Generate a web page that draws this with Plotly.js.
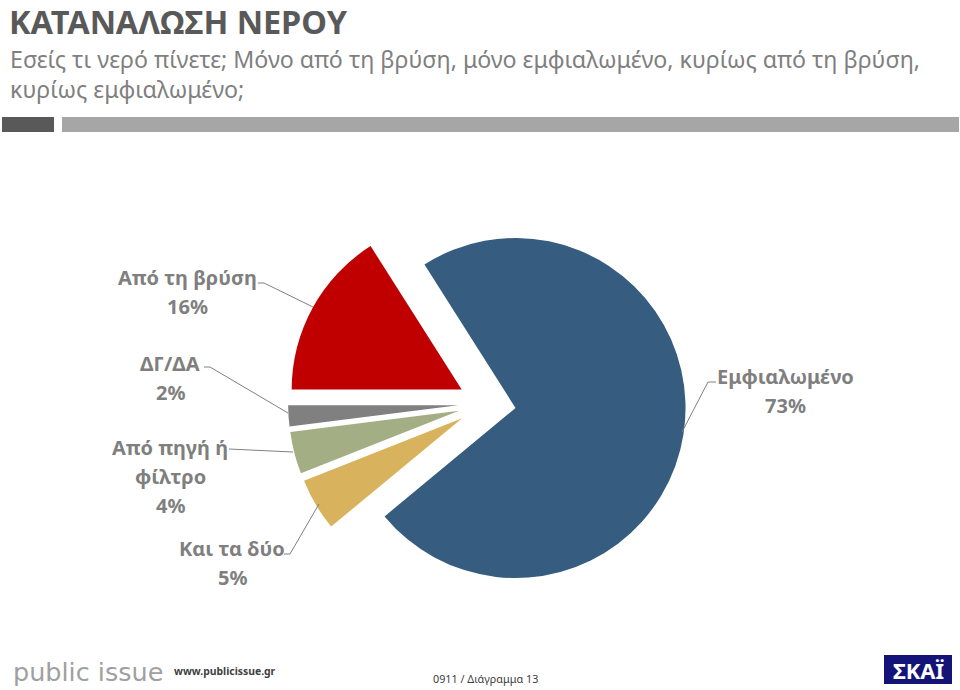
<!DOCTYPE html>
<html>
<head>
<meta charset="utf-8">
<script src="https://cdn.plot.ly/plotly-3.0.1.min.js"></script>
<style>html,body{margin:0;padding:0;background:#fff;}#chart{width:960px;height:690px;}</style>
</head>
<body>
<div id="chart"></div>
<script>
// ---- data ----
var categories = ['Εμφιαλωμένο', 'Και τα δύο', 'Από πηγή ή<br>φίλτρο', 'ΔΓ/ΔΑ', 'Από τη βρύση'];
var values = [73, 5, 4, 2, 16];
var titleText = 'ΚΑΤΑΝΑΛΩΣΗ ΝΕΡΟΥ';
var subtitleLines = ['Εσείς τι νερό πίνετε; Μόνο από τη βρύση, μόνο εμφιαλωμένο, κυρίως από τη βρύση,', 'κυρίως εμφιαλωμένο;'];
var footerSite = 'www.publicissue.gr';
var footerNote = '0911 / Διάγραμμα 13';

// ---- style ----
var W = 960, H = 690;
var sliceColors = ['#365D7F', '#D8B25C', '#A4AE84', '#808080', '#C00000'];
var font = 'Noto Sans, Open Sans, DejaVu Sans, sans-serif';
function fx(p) { return p / W; }
function fy(p) { return 1 - p / H; }

var R = 170, PULL = 0.17, CX = 487, CY = 403.5;
var half = R * (1 + PULL);

var labelPos = [
  {x: 785, y: 376},
  {x: 232, y: 548},
  {x: 170, y: 447},
  {x: 170, y: 363},
  {x: 187, y: 277}
];
var leaders = [
  [[716,382],[708,382],[682,432]],
  [[284,554],[290,554],[319,504]],
  [[229,449],[293,452]],
  [[204,367],[210,367],[288,413]],
  [[258,283],[264,283],[313,307]]
];
var LINE_STEP = 29;

var annotations = [];
var shapes = [];

categories.forEach(function (c, i) {
  var lines = c.split('<br>').concat([values[i] + '%']);
  lines.forEach(function (t, j) {
    annotations.push({
      xref: 'paper', yref: 'paper', x: fx(labelPos[i].x), y: fy(labelPos[i].y + j * LINE_STEP),
      xanchor: 'center', yanchor: 'middle', showarrow: false, text: '<b>' + t + '</b>',
      font: {family: font, size: 20, color: '#7F7F7F'}
    });
  });
  var pts = leaders[i];
  var d = 'M ' + pts.map(function (p) { return fx(p[0]) + ',' + fy(p[1]); }).join(' L ');
  shapes.push({type: 'path', xref: 'paper', yref: 'paper', path: d, line: {color: '#808080', width: 1}});
});

// title & subtitle
annotations.push({xref: 'paper', yref: 'paper', x: fx(8), y: fy(22), xanchor: 'left', yanchor: 'middle', borderpad: 0,
  showarrow: false, text: '<b>' + titleText + '</b>', font: {family: font, size: 32.5, color: '#595959'}});
subtitleLines.forEach(function (t, j) {
  annotations.push({xref: 'paper', yref: 'paper', x: fx(9), y: fy(59.5 + j * 29), xanchor: 'left', yanchor: 'middle', borderpad: 0,
    showarrow: false, text: t, font: {family: font, size: 23.2, color: '#7F7F7F'}});
});
// header bars
shapes.push({type: 'rect', xref: 'paper', yref: 'paper', x0: fx(2), x1: fx(54), y0: fy(132), y1: fy(117), fillcolor: '#595959', line: {width: 0}});
shapes.push({type: 'rect', xref: 'paper', yref: 'paper', x0: fx(62), x1: fx(959), y0: fy(132), y1: fy(117), fillcolor: '#A6A6A6', line: {width: 0}});

// footer
annotations.push({xref: 'paper', yref: 'paper', x: fx(11), y: fy(672), xanchor: 'left', yanchor: 'middle',
  showarrow: false, text: 'public issue', font: {family: 'DejaVu Sans, sans-serif', size: 25.5, color: '#A0A0A0'}});
annotations.push({xref: 'paper', yref: 'paper', x: fx(172), y: fy(671), xanchor: 'left', yanchor: 'middle',
  showarrow: false, text: '<b>' + footerSite + '</b>', font: {family: font, size: 10.4, color: '#404040'}});
annotations.push({xref: 'paper', yref: 'paper', x: fx(485), y: fy(678), xanchor: 'center', yanchor: 'middle',
  showarrow: false, text: footerNote, font: {family: font, size: 10.8, color: '#404040'}});
shapes.push({type: 'rect', xref: 'paper', yref: 'paper', x0: fx(884), x1: fx(952), y0: fy(684), y1: fy(655), fillcolor: '#141478', line: {width: 0}});
annotations.push({xref: 'paper', yref: 'paper', x: fx(918), y: fy(670), xanchor: 'center', yanchor: 'middle',
  showarrow: false, text: '<b>ΣΚΑΪ</b>', font: {family: font, size: 22, color: '#FFFFFF'}});

var total = values.reduce(function (a, b) { return a + b; }, 0);
var trace = {
  type: 'pie',
  labels: categories,
  values: values,
  sort: false,
  direction: 'clockwise',
  // last slice (Από τη βρύση) ends at 9 o'clock
  rotation: 270 + 360 * values[values.length - 1] / total - 360,
  pull: values.map(function () { return PULL; }),
  marker: {colors: sliceColors, line: {width: 0}},
  textinfo: 'none',
  hoverinfo: 'label+percent',
  domain: {x: [fx(CX - half), fx(CX + half)], y: [fy(CY + half), fy(CY - half)]}
};

Plotly.newPlot('chart', [trace], {
  width: W, height: H,
  margin: {l: 0, r: 0, t: 0, b: 0},
  paper_bgcolor: '#FFFFFF',
  showlegend: false,
  annotations: annotations,
  shapes: shapes
}, {displayModeBar: false, staticPlot: true});
</script>
</body>
</html>
